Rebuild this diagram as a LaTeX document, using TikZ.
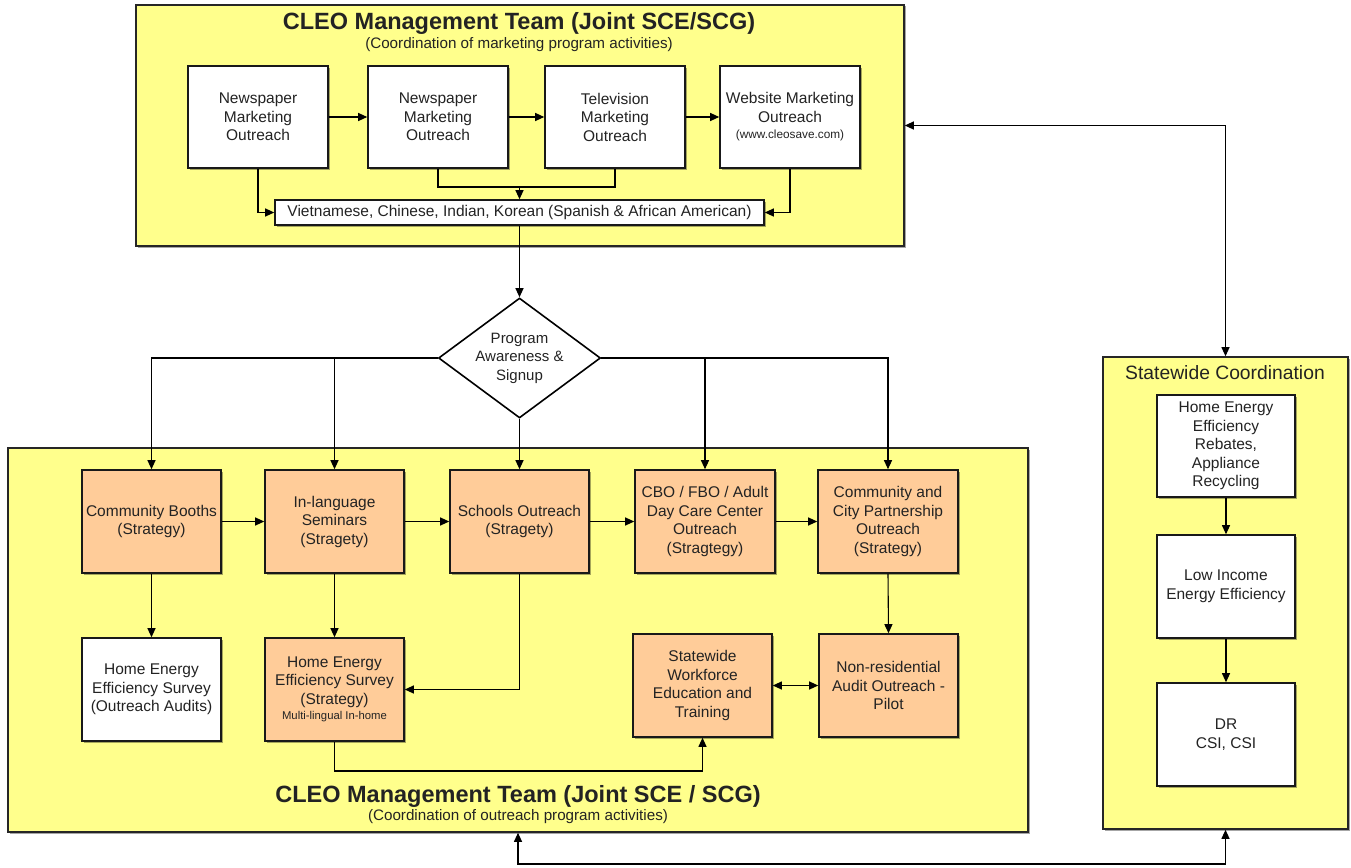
\documentclass[tikz,border=0pt]{standalone}
\usepackage{fontspec}
\setmainfont{Liberation Sans}
\usetikzlibrary{arrows.meta,shapes.geometric,shadows}
\definecolor{panelyellow}{RGB}{255,255,140}
\definecolor{stratorange}{RGB}{255,204,153}
\definecolor{inkgray}{RGB}{35,35,35}

\begin{document}
\begin{tikzpicture}[x=1pt,y=-1pt,
  font=\fontsize{15.5}{18.5}\selectfont,
  >={Triangle[length=9pt,width=8pt]},
  every node/.style={text=inkgray, align=center, inner sep=1pt},
  softshadow/.style={drop shadow={shadow xshift=1.5pt, shadow yshift=-1.5pt, fill=black, opacity=0.35}},
  panel/.style={draw=black!85, line width=1.6pt, fill=panelyellow, softshadow},
  card/.style={draw=black!90, line width=1.6pt, fill=white, softshadow},
  strat/.style={card, fill=stratorange},
  topcard/.style={card, minimum width=140pt, minimum height=102pt},
  lowcard/.style={card, minimum width=139pt, minimum height=103pt},
  lowstrat/.style={strat, minimum width=139pt, minimum height=103pt},
  sidecard/.style={card, minimum width=138pt, minimum height=102pt},
  link/.style={line width=1.1pt, draw=black},
  headline/.style={font=\fontsize{23.5}{27}\selectfont\bfseries},
  subline/.style={font=\fontsize{15.2}{18}\selectfont},
  smallnote/.style={font=\fontsize{11.8}{14}\selectfont}
]
\useasboundingbox (0,0) rectangle (1351,867);

% ---------- panels ----------
\node[panel, minimum width=768pt, minimum height=241pt] (mkt) at (520,125.5) {};
\node[panel, minimum width=1020pt, minimum height=384pt] (out) at (518,640) {};
\node[panel, minimum width=245pt, minimum height=472pt] (state) at (1225.5,593) {};

% ---------- marketing panel ----------
\node[headline] (mkttitle) at (519,23) {CLEO Management Team (Joint SCE/SCG)};
\node[subline] (mktsub) at (519,45) {(Coordination of marketing program activities)};

\node[topcard] (n1) at (258,117) {Newspaper\\Marketing\\Outreach};
\node[topcard] (n2) at (438,117) {Newspaper\\Marketing\\Outreach};
\node[topcard] (n3) at (615,117) {Television\\Marketing\\Outreach};
\node[topcard] (n4) at (790,117) {Website Marketing\\Outreach\\[-2pt]{\fontsize{11.8}{14}\selectfont (www.cleosave.com)}};

\node[card, minimum width=489pt, minimum height=25pt, inner sep=0pt] (lang) at (519.5,212.5)
  {Vietnamese, Chinese, Indian, Korean (Spanish \& African American)};

\draw[link,->] (n1) -- (n2);
\draw[link,->] (n2) -- (n3);
\draw[link,->] (n3) -- (n4);
\draw[link,->] (n1.south) |- (lang.west);
\draw[link,->] (n4.south) |- (lang.east);
\coordinate (merge) at (519.5,187);
\draw[link] (n2.south) |- (merge) -| (n3.south);
\draw[link,->] (merge) -- (lang.north);

% ---------- decision ----------
\node[diamond, draw=black, line width=1.6pt, fill=white, aspect=1.35, inner sep=0pt,
      minimum width=162pt, minimum height=120pt, font=\fontsize{15}{18.5}\selectfont]
  (dia) at (519.5,358) {Program\\Awareness \&\\Signup};
\draw[link,->] (lang.south) -- (dia.north);

% ---------- outreach panel ----------
\node[lowstrat] (b1) at (151.5,521.5) {Community Booths\\(Strategy)};
\node[lowstrat] (b2) at (334.5,521.5) {In-language\\Seminars\\(Stragety)};
\node[lowstrat] (b3) at (519.5,521.5) {Schools Outreach\\(Stragety)};
\node[strat, minimum width=140pt, minimum height=103pt] (b4) at (705,521.5) {CBO / FBO / Adult\\Day Care Center\\Outreach\\(Stragtegy)};
\node[lowstrat, minimum width=140pt] (b5) at (888,521.5) {Community and\\City Partnership\\Outreach\\(Strategy)};

\node[lowcard] (c1) at (151.5,689.5) {Home Energy\\Efficiency Survey\\(Outreach Audits)};
\node[lowstrat] (c2) at (334.5,689.5) {Home Energy\\Efficiency Survey\\(Strategy)\\[-3pt]{\fontsize{11.3}{13}\selectfont Multi-lingual In-home}};
\node[lowstrat] (c4) at (702.5,685.5) {Statewide\\Workforce\\Education and\\Training};
\node[lowstrat] (c5) at (888.5,685.5) {Non-residential\\Audit Outreach -\\Pilot};

\node[headline] (outtitle) at (518,796) {CLEO Management Team (Joint SCE / SCG)};
\node[subline] (outsub) at (518,817) {(Coordination of outreach program activities)};

\draw[link,->] (dia.west) -| (b1.north);
\draw[link,->] (dia.west) -| (b2.north);
\draw[link,->] (dia.south) -- (b3.north);
\draw[link,->] (dia.east) -| (b4.north);
\draw[link,->] (dia.east) -| (b5.north);

\draw[link,->] (b1) -- (b2);
\draw[link,->] (b2) -- (b3);
\draw[link,->] (b3) -- (b4);
\draw[link,->] (b4) -- (b5);

\draw[link,->] (b1.south) -- (c1.north);
\draw[link,->] (b2.south) -- (c2.north);
\draw[link,->] (b3.south) |- (c2.east);
\draw[link,->] (b5.south) -- (c5.north);
\coordinate (trainrun) at (334.5,771);
\draw[link,->] (c2.south) -- (trainrun) -| (c4.south);
\draw[link,<->] (c4.east) -- (c5.west);

% ---------- statewide panel ----------
\node[font=\fontsize{19.3}{22}\selectfont] (statetitle) at (1225,373) {Statewide Coordination};
\node[sidecard] (r1) at (1226,446) {Home Energy\\Efficiency\\Rebates,\\Appliance\\Recycling};
\node[sidecard, minimum height=103pt] (r2) at (1226,586.5) {Low Income\\Energy Efficiency};
\node[sidecard, minimum height=103pt] (r3) at (1226,734.5) {DR\\CSI, CSI};
\draw[link,->] (r1) -- (r2);
\draw[link,->] (r2) -- (r3);

% ---------- links between panels ----------
\draw[link,<->] (mkt.east) -| (state.north);
\coordinate (baseline) at (518,864);
\draw[link,<->] (out.south) -- (baseline) -| (state.south);
\end{tikzpicture}
\end{document}
